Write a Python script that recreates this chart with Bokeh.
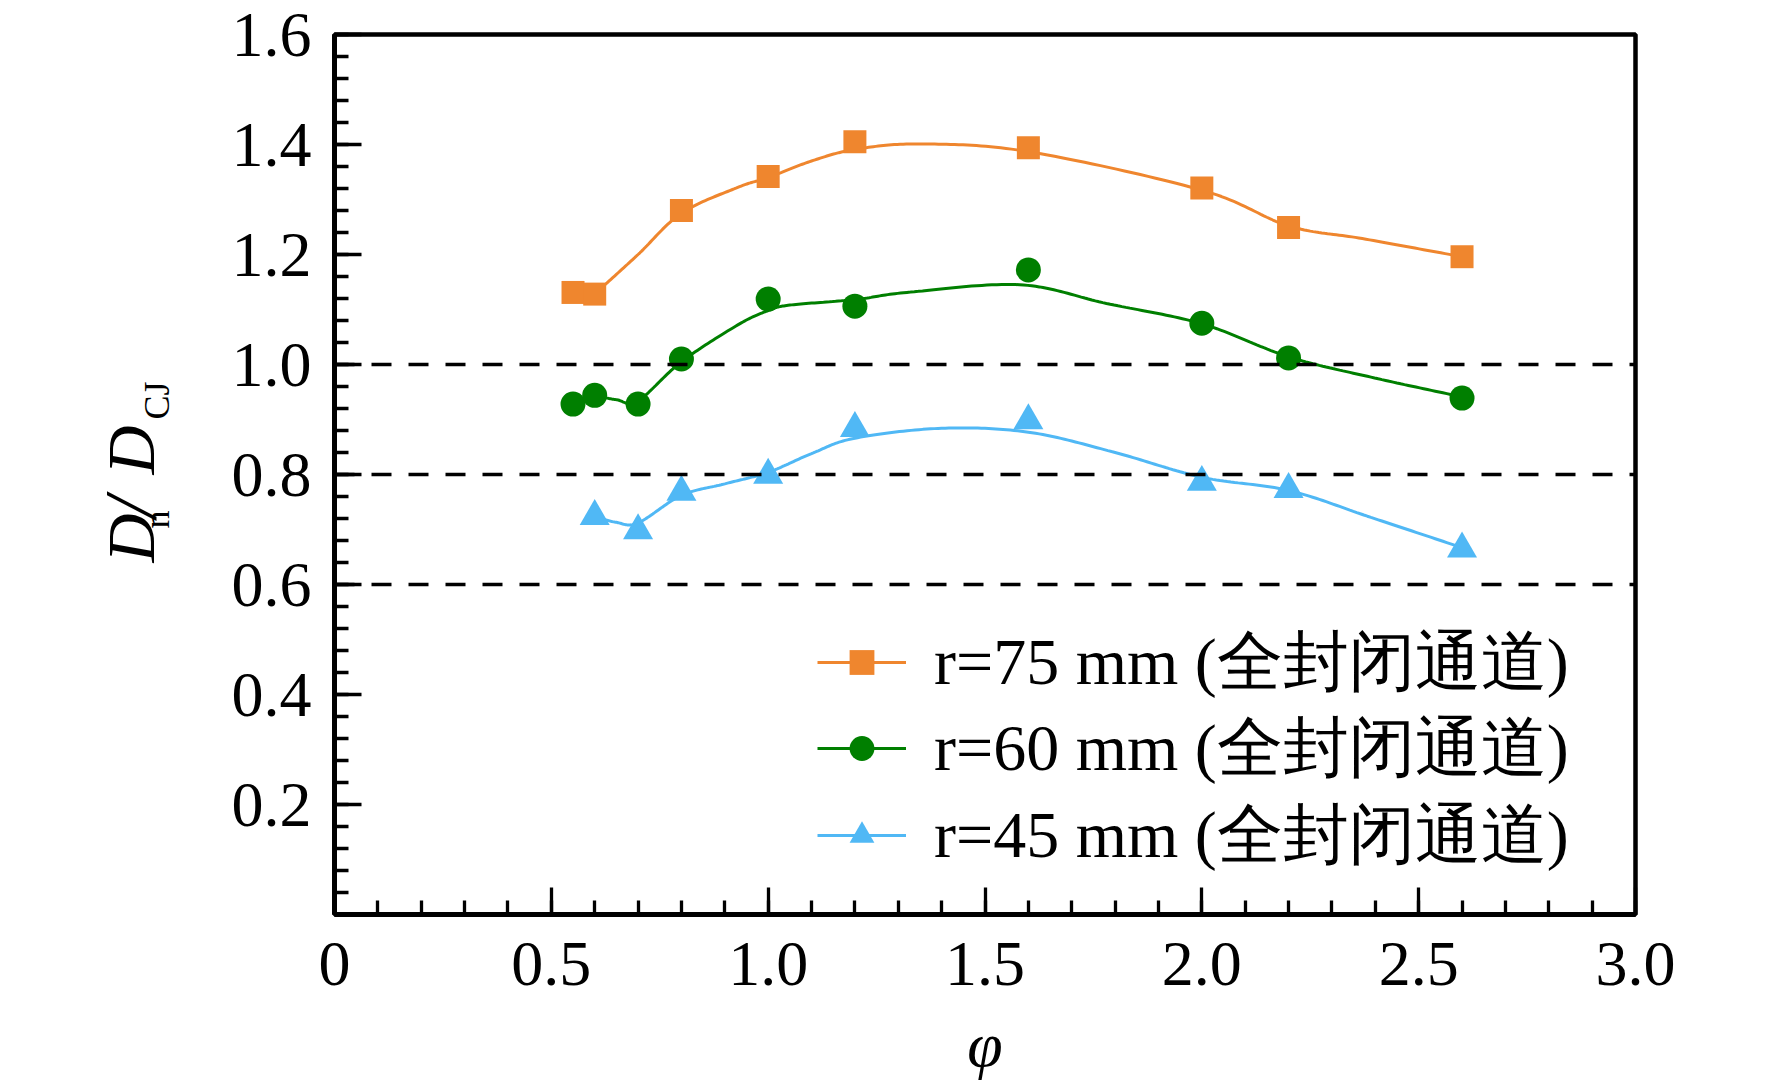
import numpy as np
from bokeh.plotting import figure
from bokeh.layouts import row
from bokeh.models import (Range1d, FixedTicker, CustomJSTickFormatter, Span, Label,
                          Legend, LegendItem)
from bokeh.embed import file_html
from bokeh.resources import INLINE

# ---- data ----
phi_75 = [0.55, 0.6, 0.8, 1.0, 1.2, 1.6, 2.0, 2.2, 2.6]
dn_75 = [1.131, 1.128, 1.280, 1.342, 1.405, 1.394, 1.321, 1.249, 1.196]

phi_60 = [0.55, 0.6, 0.7, 0.8, 1.0, 1.2, 1.6, 2.0, 2.2, 2.6]
dn_60 = [0.928, 0.944, 0.928, 1.010, 1.119, 1.106, 1.172, 1.075, 1.012, 0.939]

phi_45 = [0.6, 0.7, 0.8, 1.0, 1.2, 1.6, 2.0, 2.2, 2.6]
dn_45 = [0.724, 0.698, 0.768, 0.799, 0.884, 0.898, 0.786, 0.773, 0.665]

# fitted (smooth) curves
fit_phi_75 = [0.6, 0.7, 0.8, 0.93, 1.0, 1.1, 1.2, 1.35, 1.6, 2.0, 2.2, 2.37, 2.6]
fit_dn_75 = [1.128, 1.200, 1.275, 1.322, 1.340, 1.370, 1.391, 1.401, 1.387, 1.317, 1.252, 1.229, 1.196]

fit_phi_60 = [0.6, 0.65, 0.7, 0.8, 0.93, 1.0, 1.05, 1.2, 1.32, 1.58, 1.78, 2.0, 2.2, 2.39, 2.6]
fit_dn_60 = [0.944, 0.936, 0.934, 1.005, 1.072, 1.098, 1.108, 1.118, 1.131, 1.145, 1.111, 1.074, 1.014, 0.977, 0.941]

fit_phi_45 = [0.6, 0.65, 0.7, 0.8, 0.9, 1.0, 1.1, 1.2, 1.4, 1.6, 1.8, 2.0, 2.2, 2.39, 2.6]
fit_dn_45 = [0.724, 0.713, 0.712, 0.762, 0.783, 0.804, 0.838, 0.866, 0.884, 0.877, 0.840, 0.795, 0.771, 0.722, 0.667]

ref_levels = [1.0, 0.8, 0.6]

labels = ["r=75 mm (全封闭通道)", "r=60 mm (全封闭通道)", "r=45 mm (全封闭通道)"]
colors = ["#EF862E", "#007F00", "#50B8F5"]

x_major = [0, 0.5, 1.0, 1.5, 2.0, 2.5, 3.0]
y_major = [0.2, 0.4, 0.6, 0.8, 1.0, 1.2, 1.4, 1.6]
x_title = "φ"
y_title_parts = ["D", "n", "/", "D", "CJ"]


def smooth(xk, yk, n=24):
    """Catmull-Rom rendering through the read curve knots."""
    x = np.asarray(xk, float)
    y = np.asarray(yk, float)
    px = np.concatenate([[2 * x[0] - x[1]], x, [2 * x[-1] - x[-2]]])
    py = np.concatenate([[2 * y[0] - y[1]], y, [2 * y[-1] - y[-2]]])
    xs, ys = [], []
    t = np.linspace(0, 1, n, endpoint=False)
    for i in range(1, len(px) - 2):
        for P, out in ((px, xs), (py, ys)):
            p0, p1, p2, p3 = P[i - 1], P[i], P[i + 1], P[i + 2]
            out.extend(0.5 * ((2 * p1) + (-p0 + p2) * t + (2 * p0 - 5 * p1 + 4 * p2 - p3) * t ** 2
                              + (-p0 + 3 * p1 - 3 * p2 + p3) * t ** 3))
    xs.append(x[-1])
    ys.append(y[-1])
    return xs, ys


SERIF = "Liberation Serif"
H = 1084
WL = 200
W = 1756 - WL
FRAME_TOP = 34
FRAME_BOTTOM = 914

# ---- left strip carrying the rotated y-axis title ----
yl = figure(width=WL, height=H, output_backend="svg", toolbar_location=None, title=None,
            x_range=Range1d(0, 1), y_range=Range1d(0, 1),
            x_axis_type=None, y_axis_type=None,
            min_border_left=0, min_border_right=0,
            min_border_top=FRAME_TOP, min_border_bottom=H - FRAME_BOTTOM)
yl.grid.visible = False
yl.outline_line_color = None
yl.background_fill_color = "white"
yl.border_fill_color = "white"

# (page x of text centre line, page y of text start) for each piece
ypos = [(130, 562, "68px", "italic"),
        (156, 528, "36px", "normal"),
        (130, 517, "74px", "italic"),
        (130, 474, "68px", "italic"),
        (156, 419, "36px", "normal")]
for txt, (lx, ly, fs, st) in zip(y_title_parts, ypos):
    yl.add_layout(Label(x=lx, y=FRAME_BOTTOM - ly, x_units="screen", y_units="screen", text=txt,
                        angle=np.pi / 2,
                        text_font=SERIF, text_font_style=st, text_font_size=fs,
                        text_align="left", text_baseline="middle", text_color="black"))

# ---- main plot ----
p = figure(width=W, height=H, output_backend="svg", toolbar_location=None,
           x_range=Range1d(0, 3.0), y_range=Range1d(0, 1.6),
           min_border_left=134, min_border_right=121,
           min_border_top=FRAME_TOP, min_border_bottom=H - FRAME_BOTTOM)
p.background_fill_color = "white"
p.border_fill_color = "white"
p.grid.visible = False
p.outline_line_color = "black"
p.outline_line_width = 4.5

for ax, majors, step in ((p.xaxis[0], x_major, 0.1), (p.yaxis[0], y_major, 0.04)):
    n = int(round((majors[-1]) / step))
    minors = [round(i * step, 3) for i in range(1, n + 1)]
    ax.ticker = FixedTicker(ticks=majors, minor_ticks=minors)
    ax.axis_line_width = 5
    ax.axis_line_color = "black"
    ax.major_tick_in = 27
    ax.major_tick_out = 0
    ax.minor_tick_in = 14
    ax.minor_tick_out = 0
    ax.major_tick_line_width = 3.3
    ax.minor_tick_line_width = 3.3
    ax.major_tick_line_color = "black"
    ax.minor_tick_line_color = "black"
    ax.major_label_text_font = SERIF
    ax.major_label_text_font_size = "64px"
    ax.major_label_text_color = "black"

p.xaxis[0].formatter = CustomJSTickFormatter(code="return tick == 0 ? '0' : tick.toFixed(1);")
p.yaxis[0].formatter = CustomJSTickFormatter(code="return tick.toFixed(1);")
p.xaxis[0].major_label_standoff = 28
p.yaxis[0].major_label_standoff = 23

p.xaxis[0].axis_label = x_title
p.xaxis[0].axis_label_text_font = SERIF
p.xaxis[0].axis_label_text_font_style = "italic"
p.xaxis[0].axis_label_text_font_size = "64px"
p.xaxis[0].axis_label_text_color = "black"
p.xaxis[0].axis_label_standoff = 21

for lv in ref_levels:
    p.add_layout(Span(location=lv, dimension="width", line_color="black",
                      line_width=3.5, line_dash="20 17"))

series = [
    (phi_75, dn_75, fit_phi_75, fit_dn_75, "square", 23),
    (phi_60, dn_60, fit_phi_60, fit_dn_60, "circle", 25),
    (phi_45, dn_45, fit_phi_45, fit_dn_45, "triangle", 30),
]
# one single-entry legend per series so the row pitch can be matched exactly
legend_offsets = [207, 121, 34]
for (px_, py_, fx, fy, mk, sz), lab, col, off in zip(series, labels, colors, legend_offsets):
    sx, sy = smooth(fx, fy)
    lr = p.line(sx, sy, line_color=col, line_width=3)
    sr = p.scatter(px_, py_, marker=mk, size=sz, fill_color=col, line_color=col, line_width=0)
    lg = Legend(items=[LegendItem(label=lab, renderers=[lr, sr])], location=(483, off),
                glyph_width=89, glyph_height=62, label_standoff=28, spacing=0,
                padding=0, margin=0, border_line_alpha=0, background_fill_alpha=0,
                label_text_font=SERIF, label_text_font_size="66px",
                label_text_color="black")
    p.add_layout(lg, "center")

layout = row(yl, p)
open("out.html", "w").write(file_html(layout, INLINE))
